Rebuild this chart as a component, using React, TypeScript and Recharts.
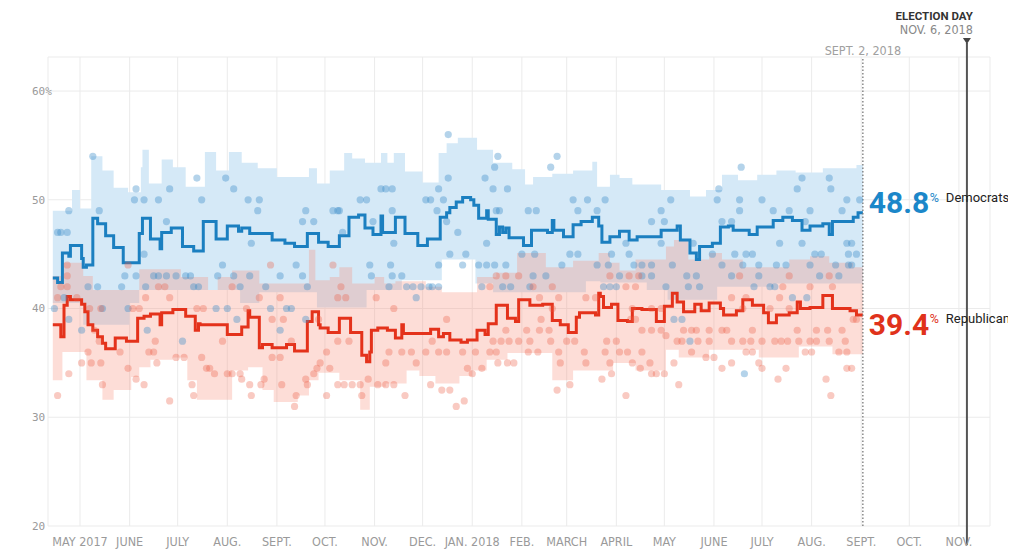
import React from "react";
import {
  ComposedChart,
  XAxis,
  YAxis,
  CartesianGrid,
  Line,
  Area,
  Scatter,
  ReferenceLine,
  ReferenceDot,
} from "recharts";

type Pt = [string, number];

// ---------- axes ----------
const monthTicks: string[] = [
  "2017-05-01", "2017-06-01", "2017-07-01", "2017-08-01", "2017-09-01", "2017-10-01",
  "2017-11-01", "2017-12-01", "2018-01-01", "2018-02-01", "2018-03-01", "2018-04-01",
  "2018-05-01", "2018-06-01", "2018-07-01", "2018-08-01", "2018-09-01", "2018-10-01",
  "2018-11-01",
];
const monthTickLabels: string[] = [
  "MAY 2017", "JUNE", "JULY", "AUG.", "SEPT.", "OCT.", "NOV.", "DEC.", "JAN. 2018",
  "FEB.", "MARCH", "APRIL", "MAY", "JUNE", "JULY", "AUG.", "SEPT.", "OCT.", "NOV.",
];
const yTicks: number[] = [20, 30, 40, 50, 60];
const xDomainDates: string[] = ["2017-04-11T00:00:00Z", "2018-11-20T10:00:00Z"];
const yDomain: [number, number] = [20, 63.13];

const latestDate = "2018-09-02";
const latestLabel = "SEPT. 2, 2018";
const electionDate = "2018-11-06";
const electionTitle = "ELECTION DAY";
const electionSub = "NOV. 6, 2018";
const demLatest = 48.8;
const repLatest = 39.4;
const demName = "Democrats";
const repName = "Republicans";

// ---------- polling averages ----------
const demAvg: Pt[] = [
  ["2017-04-14", 42.8], ["2017-04-17", 42.4], ["2017-04-20", 45.1], ["2017-04-24", 44.8], ["2017-04-25", 45.8],
  ["2017-05-02", 44.6], ["2017-05-03", 43.8], ["2017-05-05", 44.0], ["2017-05-09", 48.3], ["2017-05-12", 47.8],
  ["2017-05-17", 46.7], ["2017-05-22", 45.6], ["2017-05-28", 44.2], ["2017-06-07", 46.9], ["2017-06-09", 48.3],
  ["2017-06-14", 46.4], ["2017-06-20", 45.5], ["2017-06-21", 47.0], ["2017-06-27", 47.4], ["2017-07-04", 45.7],
  ["2017-07-11", 45.3], ["2017-07-17", 48.0], ["2017-07-25", 46.4], ["2017-08-01", 47.6], ["2017-08-08", 47.1],
  ["2017-08-10", 47.4], ["2017-08-15", 46.9], ["2017-08-29", 46.3], ["2017-09-06", 46.0], ["2017-09-12", 45.7],
  ["2017-09-20", 46.9], ["2017-09-27", 46.1], ["2017-10-03", 45.7], ["2017-10-10", 46.7], ["2017-10-16", 48.4],
  ["2017-10-22", 48.6], ["2017-10-26", 47.4], ["2017-10-31", 46.8], ["2017-11-05", 48.5], ["2017-11-06", 47.0],
  ["2017-11-14", 48.4], ["2017-11-20", 46.9], ["2017-11-28", 45.8], ["2017-12-04", 46.4], ["2017-12-12", 48.4],
  ["2017-12-16", 48.8], ["2017-12-18", 49.3], ["2017-12-22", 49.8], ["2017-12-26", 50.2], ["2017-12-31", 50.0],
  ["2018-01-02", 49.5], ["2018-01-05", 48.3], ["2018-01-10", 49.0], ["2018-01-11", 48.2], ["2018-01-16", 46.8],
  ["2018-01-18", 47.5], ["2018-01-20", 47.0], ["2018-01-22", 47.4], ["2018-01-24", 46.5], ["2018-02-02", 45.8],
  ["2018-02-07", 47.2], ["2018-02-17", 47.0], ["2018-02-20", 48.1], ["2018-02-21", 47.2], ["2018-02-27", 46.6],
  ["2018-03-05", 47.7], ["2018-03-10", 48.0], ["2018-03-17", 48.4], ["2018-03-21", 47.6], ["2018-03-23", 46.1],
  ["2018-03-28", 46.6], ["2018-04-03", 47.1], ["2018-04-09", 46.3], ["2018-04-14", 46.6], ["2018-04-29", 47.2],
  ["2018-05-09", 47.6], ["2018-05-11", 46.3], ["2018-05-17", 45.1], ["2018-05-21", 44.5], ["2018-05-23", 45.7],
  ["2018-05-31", 46.0], ["2018-06-05", 47.5], ["2018-06-10", 47.6], ["2018-06-13", 47.2], ["2018-06-23", 46.8],
  ["2018-06-28", 47.5], ["2018-07-08", 48.1], ["2018-07-14", 48.4], ["2018-07-20", 48.1], ["2018-07-26", 47.2],
  ["2018-07-31", 47.6], ["2018-08-08", 47.8], ["2018-08-12", 46.8], ["2018-08-14", 48.0], ["2018-08-27", 48.4],
  ["2018-08-30", 48.8], ["2018-09-02", 48.8],
];

const repAvg: Pt[] = [
  ["2017-04-14", 38.5], ["2017-04-19", 37.4], ["2017-04-21", 40.3], ["2017-04-23", 41.1], ["2017-04-25", 40.8],
  ["2017-05-02", 40.4], ["2017-05-04", 39.7], ["2017-05-06", 38.5], ["2017-05-09", 38.0], ["2017-05-12", 37.4],
  ["2017-05-15", 36.8], ["2017-05-17", 36.3], ["2017-05-23", 37.3], ["2017-05-30", 37.0], ["2017-06-06", 39.1],
  ["2017-06-10", 39.3], ["2017-06-14", 39.5], ["2017-06-20", 38.5], ["2017-06-21", 39.6], ["2017-06-28", 39.9],
  ["2017-07-06", 39.3], ["2017-07-12", 38.0], ["2017-07-14", 38.6], ["2017-07-15", 38.5], ["2017-08-01", 37.6],
  ["2017-08-10", 38.3], ["2017-08-14", 39.8], ["2017-08-15", 39.2], ["2017-08-21", 36.4], ["2017-08-23", 36.7],
  ["2017-08-29", 36.4], ["2017-09-07", 36.7], ["2017-09-12", 36.1], ["2017-09-20", 38.8], ["2017-09-23", 39.7],
  ["2017-09-27", 38.5], ["2017-09-28", 38.2], ["2017-10-03", 37.8], ["2017-10-10", 39.1], ["2017-10-17", 37.8],
  ["2017-10-24", 35.7], ["2017-10-27", 35.1], ["2017-10-29", 36.0], ["2017-10-30", 38.0], ["2017-11-03", 38.2],
  ["2017-11-09", 38.0], ["2017-11-14", 37.3], ["2017-11-18", 38.5], ["2017-11-19", 37.7], ["2017-12-06", 38.1],
  ["2017-12-11", 37.4], ["2017-12-14", 37.7], ["2017-12-18", 37.1], ["2017-12-25", 36.9], ["2017-12-29", 37.1],
  ["2018-01-04", 38.0], ["2018-01-09", 37.6], ["2018-01-11", 38.6], ["2018-01-16", 40.3], ["2018-01-23", 39.1],
  ["2018-01-28", 38.8], ["2018-01-30", 40.8], ["2018-02-06", 40.3], ["2018-02-14", 40.4], ["2018-02-20", 38.9],
  ["2018-02-25", 38.5], ["2018-03-02", 37.8], ["2018-03-07", 39.2], ["2018-03-09", 39.6], ["2018-03-19", 39.4],
  ["2018-03-21", 41.4], ["2018-03-22", 41.1], ["2018-03-24", 40.1], ["2018-03-29", 40.4], ["2018-04-02", 38.9],
  ["2018-04-08", 38.8], ["2018-04-11", 40.0], ["2018-04-17", 39.9], ["2018-04-26", 38.8], ["2018-05-01", 40.2],
  ["2018-05-06", 41.4], ["2018-05-09", 40.6], ["2018-05-13", 39.7], ["2018-05-20", 40.4], ["2018-05-24", 39.8],
  ["2018-05-29", 40.5], ["2018-06-05", 40.0], ["2018-06-07", 39.4], ["2018-06-15", 39.8], ["2018-06-19", 40.8],
  ["2018-06-25", 40.3], ["2018-07-02", 39.6], ["2018-07-05", 38.7], ["2018-07-10", 39.4], ["2018-07-18", 39.6],
  ["2018-07-23", 40.6], ["2018-07-25", 40.0], ["2018-07-31", 40.1], ["2018-08-08", 41.2], ["2018-08-14", 40.0],
  ["2018-08-25", 39.8], ["2018-08-29", 39.4], ["2018-09-02", 39.4],
];

// ---------- uncertainty bands ----------
const demBandHigh: Pt[] = [
  ["2017-04-14", 49.0], ["2017-04-26", 50.9], ["2017-05-01", 49.2], ["2017-05-08", 54.0], ["2017-05-15", 52.7],
  ["2017-05-22", 51.1], ["2017-05-31", 50.7], ["2017-06-08", 53.0], ["2017-06-09", 54.6], ["2017-06-13", 51.5],
  ["2017-06-21", 53.7], ["2017-06-28", 53.0], ["2017-07-06", 51.2], ["2017-07-18", 54.4], ["2017-07-25", 52.7],
  ["2017-08-02", 54.4], ["2017-08-10", 53.4], ["2017-08-20", 52.9], ["2017-09-01", 52.1], ["2017-09-21", 52.9],
  ["2017-09-26", 51.5], ["2017-10-04", 52.7], ["2017-10-13", 54.3], ["2017-10-18", 53.8], ["2017-10-26", 53.4],
  ["2017-11-05", 54.3], ["2017-11-09", 53.4], ["2017-11-13", 54.3], ["2017-11-20", 52.6], ["2017-12-01", 51.6],
  ["2017-12-11", 54.3], ["2017-12-16", 55.2], ["2017-12-23", 55.7], ["2018-01-04", 54.6], ["2018-01-14", 53.4],
  ["2018-01-26", 52.8], ["2018-02-03", 51.4], ["2018-02-08", 52.1], ["2018-02-20", 52.4], ["2018-03-05", 52.7],
  ["2018-03-17", 53.5], ["2018-03-20", 51.2], ["2018-03-28", 52.3], ["2018-04-03", 52.0], ["2018-04-11", 51.4],
  ["2018-04-29", 50.9], ["2018-05-17", 50.3], ["2018-05-27", 50.9], ["2018-06-06", 52.3], ["2018-06-16", 51.8],
  ["2018-06-28", 52.3], ["2018-07-10", 52.7], ["2018-07-22", 52.5], ["2018-08-08", 52.9], ["2018-08-29", 53.2],
  ["2018-09-02", 53.2],
];
const demBandLow: Pt[] = [
  ["2017-04-14", 40.5], ["2017-05-03", 38.5], ["2017-06-01", 40.5], ["2017-06-07", 41.7], ["2017-08-09", 40.5],
  ["2017-08-21", 41.5], ["2017-09-26", 40.1], ["2017-10-27", 41.7], ["2017-11-18", 42.6], ["2017-12-13", 44.5],
  ["2018-01-03", 42.3], ["2018-01-14", 41.5], ["2018-03-13", 42.5], ["2018-03-22", 42.4], ["2018-04-20", 41.7],
  ["2018-05-03", 40.8], ["2018-06-03", 42.0], ["2018-07-08", 42.3], ["2018-09-02", 42.3],
];
const repBandHigh: Pt[] = [
  ["2017-04-14", 43.0], ["2017-04-20", 44.2], ["2017-05-03", 43.0], ["2017-05-09", 41.7], ["2017-06-07", 43.6],
  ["2017-07-03", 42.9], ["2017-07-20", 41.7], ["2017-07-26", 42.9], ["2017-08-04", 43.5], ["2017-08-21", 42.3],
  ["2017-09-21", 45.4], ["2017-09-25", 42.6], ["2017-10-04", 42.9], ["2017-10-10", 43.8], ["2017-10-18", 42.3],
  ["2017-11-01", 42.9], ["2017-11-07", 42.3], ["2017-11-14", 42.5], ["2017-12-03", 42.0], ["2017-12-13", 41.5],
  ["2018-01-04", 42.9], ["2018-01-16", 43.3], ["2018-01-29", 45.1], ["2018-02-16", 43.8], ["2018-03-05", 44.4],
  ["2018-03-21", 45.1], ["2018-03-28", 44.2], ["2018-04-03", 43.5], ["2018-04-13", 44.5], ["2018-05-02", 45.7],
  ["2018-05-07", 46.3], ["2018-05-16", 44.5], ["2018-05-29", 45.1], ["2018-06-06", 44.5], ["2018-06-19", 43.8],
  ["2018-07-18", 44.5], ["2018-07-31", 44.8], ["2018-08-12", 44.2], ["2018-08-27", 43.8], ["2018-09-02", 43.8],
];
const repBandLow: Pt[] = [
  ["2017-04-14", 33.4], ["2017-04-20", 36.0], ["2017-05-05", 33.4], ["2017-05-15", 31.6], ["2017-05-22", 32.5],
  ["2017-06-02", 33.7], ["2017-06-07", 34.6], ["2017-06-14", 35.3], ["2017-06-28", 35.5], ["2017-07-07", 33.4],
  ["2017-07-13", 31.6], ["2017-08-04", 34.3], ["2017-08-14", 34.6], ["2017-08-23", 32.5], ["2017-08-30", 31.4],
  ["2017-09-14", 32.0], ["2017-09-21", 33.4], ["2017-09-27", 34.1], ["2017-10-10", 33.4], ["2017-10-23", 30.7],
  ["2017-10-29", 32.8], ["2017-11-08", 33.1], ["2017-11-21", 34.3], ["2017-11-29", 33.8], ["2017-12-09", 33.1],
  ["2017-12-24", 33.8], ["2018-01-01", 34.3], ["2018-01-10", 35.3], ["2018-01-23", 35.9], ["2018-02-20", 33.4],
  ["2018-03-05", 34.3], ["2018-03-22", 34.3], ["2018-03-30", 35.0], ["2018-04-13", 34.3], ["2018-05-02", 36.2],
  ["2018-05-10", 35.5], ["2018-05-29", 36.2], ["2018-06-29", 35.5], ["2018-07-24", 36.5], ["2018-08-14", 35.8],
  ["2018-09-02", 35.8],
];

// ---------- individual polls ----------
const demPolls: Pt[] = [
  ["2017-04-15", 40], ["2017-04-17", 47], ["2017-04-19", 47], ["2017-04-21", 41], ["2017-04-23", 47], ["2017-04-24", 49],
  ["2017-04-24", 39], ["2017-05-02", 38], ["2017-05-06", 42], ["2017-05-09", 54], ["2017-05-12", 42], ["2017-05-13", 49],
  ["2017-05-15", 40], ["2017-05-27", 42], ["2017-05-29", 43], ["2017-05-31", 40], ["2017-06-04", 50], ["2017-06-05", 51],
  ["2017-06-05", 43], ["2017-06-10", 50], ["2017-06-10", 45], ["2017-06-11", 42], ["2017-06-12", 38], ["2017-06-16", 43],
  ["2017-06-19", 50], ["2017-06-19", 43], ["2017-06-24", 48], ["2017-06-24", 43], ["2017-06-26", 51], ["2017-06-30", 43],
  ["2017-07-04", 37], ["2017-07-06", 43], ["2017-07-09", 43], ["2017-07-11", 42], ["2017-07-13", 52], ["2017-07-14", 42],
  ["2017-07-16", 50], ["2017-07-25", 40], ["2017-07-26", 43], ["2017-07-29", 44], ["2017-07-31", 52], ["2017-08-01", 40],
  ["2017-08-05", 51], ["2017-08-05", 43], ["2017-08-07", 39], ["2017-08-09", 42], ["2017-08-14", 50], ["2017-08-15", 43],
  ["2017-08-16", 46], ["2017-08-20", 49], ["2017-08-21", 50], ["2017-08-25", 42], ["2017-08-28", 40], ["2017-09-03", 43],
  ["2017-09-03", 38], ["2017-09-07", 40], ["2017-09-10", 40], ["2017-09-13", 44], ["2017-09-17", 48], ["2017-09-17", 43],
  ["2017-09-19", 49], ["2017-09-19", 39], ["2017-09-20", 42], ["2017-09-24", 48], ["2017-10-06", 49], ["2017-10-09", 49],
  ["2017-10-10", 49], ["2017-10-12", 47], ["2017-10-23", 50], ["2017-10-27", 50], ["2017-10-29", 44], ["2017-10-30", 43],
  ["2017-10-31", 48], ["2017-11-05", 51], ["2017-11-08", 51], ["2017-11-10", 42], ["2017-11-11", 44], ["2017-11-12", 51],
  ["2017-11-12", 49], ["2017-11-12", 43], ["2017-11-13", 46], ["2017-11-18", 43], ["2017-11-21", 42], ["2017-11-25", 42],
  ["2017-11-27", 41], ["2017-11-30", 42], ["2017-12-03", 50], ["2017-12-05", 42], ["2017-12-06", 50], ["2017-12-07", 42],
  ["2017-12-10", 49], ["2017-12-11", 51], ["2017-12-11", 44], ["2017-12-11", 42], ["2017-12-14", 50], ["2017-12-16", 48],
  ["2017-12-17", 56], ["2017-12-17", 52], ["2017-12-18", 45], ["2017-12-23", 47], ["2017-12-26", 44], ["2017-12-28", 45],
  ["2018-01-05", 44], ["2018-01-07", 42], ["2018-01-09", 52], ["2018-01-10", 46], ["2018-01-10", 44], ["2018-01-14", 51],
  ["2018-01-15", 53], ["2018-01-15", 44], ["2018-01-16", 49], ["2018-01-17", 54], ["2018-01-18", 49], ["2018-01-20", 42],
  ["2018-01-22", 44], ["2018-01-23", 51], ["2018-01-25", 42], ["2018-02-01", 45], ["2018-02-05", 49], ["2018-02-06", 42],
  ["2018-02-08", 43], ["2018-02-09", 45], ["2018-02-10", 49], ["2018-02-16", 43], ["2018-02-19", 53], ["2018-02-23", 54],
  ["2018-02-26", 44], ["2018-03-03", 45], ["2018-03-05", 50], ["2018-03-08", 49], ["2018-03-08", 45], ["2018-03-14", 50],
  ["2018-03-20", 49], ["2018-03-20", 44], ["2018-03-24", 42], ["2018-03-25", 50], ["2018-03-27", 44], ["2018-03-28", 42],
  ["2018-03-29", 45], ["2018-04-01", 42], ["2018-04-03", 43], ["2018-04-07", 46], ["2018-04-09", 45], ["2018-04-12", 44],
  ["2018-04-17", 44], ["2018-04-17", 43], ["2018-04-23", 48], ["2018-04-23", 44], ["2018-04-23", 43], ["2018-04-29", 49],
  ["2018-04-29", 46], ["2018-05-01", 48], ["2018-05-02", 42], ["2018-05-05", 50], ["2018-05-06", 44], ["2018-05-07", 39],
  ["2018-05-12", 39], ["2018-05-15", 43], ["2018-05-16", 42], ["2018-05-17", 37], ["2018-05-19", 46], ["2018-05-21", 43],
  ["2018-05-23", 42], ["2018-05-31", 45], ["2018-06-03", 50], ["2018-06-04", 51], ["2018-06-06", 48], ["2018-06-06", 44],
  ["2018-06-12", 48], ["2018-06-12", 43], ["2018-06-14", 45], ["2018-06-17", 50], ["2018-06-17", 49], ["2018-06-18", 53],
  ["2018-06-19", 44], ["2018-06-20", 34], ["2018-06-21", 45], ["2018-06-25", 45], ["2018-06-26", 42], ["2018-06-29", 44],
  ["2018-06-29", 43], ["2018-07-01", 50], ["2018-07-06", 42], ["2018-07-08", 49], ["2018-07-09", 42], ["2018-07-10", 44],
  ["2018-07-12", 46], ["2018-07-16", 44], ["2018-07-18", 49], ["2018-07-20", 41], ["2018-07-23", 51], ["2018-07-26", 52],
  ["2018-07-26", 46], ["2018-07-28", 48], ["2018-07-29", 41], ["2018-07-31", 49], ["2018-07-31", 44], ["2018-08-03", 45],
  ["2018-08-06", 43], ["2018-08-07", 45], ["2018-08-12", 52], ["2018-08-13", 51], ["2018-08-16", 44], ["2018-08-18", 43],
  ["2018-08-20", 49], ["2018-08-23", 50], ["2018-08-23", 46], ["2018-08-24", 45], ["2018-08-24", 44], ["2018-08-26", 46],
  ["2018-08-26", 44], ["2018-08-29", 45], ["2018-08-31", 50],
];

const repPolls: Pt[] = [
  ["2017-04-17", 41], ["2017-04-17", 32], ["2017-04-19", 42], ["2017-04-23", 44], ["2017-04-23", 43], ["2017-04-23", 42],
  ["2017-04-24", 34], ["2017-04-29", 41], ["2017-05-02", 35], ["2017-05-06", 36], ["2017-05-07", 40], ["2017-05-08", 35],
  ["2017-05-10", 38], ["2017-05-13", 37], ["2017-05-14", 40], ["2017-05-14", 35], ["2017-05-15", 33], ["2017-05-26", 36],
  ["2017-05-31", 44], ["2017-05-31", 34.5], ["2017-06-03", 40], ["2017-06-05", 33.5], ["2017-06-07", 40], ["2017-06-10", 33],
  ["2017-06-11", 41], ["2017-06-13", 36], ["2017-06-16", 36], ["2017-06-17", 37], ["2017-06-18", 35], ["2017-06-19", 42],
  ["2017-06-23", 42], ["2017-06-26", 41], ["2017-06-26", 31.5], ["2017-06-30", 35.5], ["2017-07-05", 35.5], ["2017-07-10", 33],
  ["2017-07-11", 32], ["2017-07-13", 40], ["2017-07-16", 35.5], ["2017-07-17", 40], ["2017-07-19", 34.5], ["2017-07-21", 34.5],
  ["2017-07-24", 34], ["2017-07-29", 37], ["2017-08-01", 34], ["2017-08-04", 42], ["2017-08-04", 34], ["2017-08-09", 34],
  ["2017-08-10", 33.5], ["2017-08-13", 40], ["2017-08-15", 33], ["2017-08-16", 32], ["2017-08-21", 41], ["2017-08-22", 33],
  ["2017-08-24", 33.5], ["2017-08-28", 44], ["2017-08-29", 39], ["2017-08-29", 35.5], ["2017-09-03", 41], ["2017-09-03", 35.5],
  ["2017-09-04", 33], ["2017-09-05", 39], ["2017-09-10", 37], ["2017-09-12", 31], ["2017-09-13", 32], ["2017-09-19", 33.5],
  ["2017-09-20", 33], ["2017-09-24", 34], ["2017-09-26", 34.5], ["2017-09-27", 39], ["2017-09-28", 35], ["2017-10-02", 36],
  ["2017-10-02", 32], ["2017-10-04", 34.5], ["2017-10-06", 44], ["2017-10-09", 41], ["2017-10-09", 37], ["2017-10-09", 33],
  ["2017-10-11", 42], ["2017-10-13", 33], ["2017-10-14", 41], ["2017-10-16", 37], ["2017-10-18", 33], ["2017-10-23", 33],
  ["2017-10-24", 32], ["2017-10-28", 33.5], ["2017-11-02", 41], ["2017-11-03", 33], ["2017-11-08", 35], ["2017-11-08", 33],
  ["2017-11-10", 36], ["2017-11-13", 40], ["2017-11-13", 33], ["2017-11-18", 36], ["2017-11-20", 32], ["2017-11-24", 36],
  ["2017-11-27", 35], ["2017-12-03", 36], ["2017-12-06", 33], ["2017-12-07", 37], ["2017-12-11", 36], ["2017-12-13", 32.5],
  ["2017-12-16", 39], ["2017-12-16", 36], ["2017-12-18", 32.5], ["2017-12-22", 31], ["2017-12-26", 36], ["2017-12-27", 31.5],
  ["2017-12-29", 34.5], ["2018-01-01", 34], ["2018-01-03", 36], ["2018-01-07", 34.5], ["2018-01-12", 42], ["2018-01-12", 36],
  ["2018-01-14", 37], ["2018-01-16", 43], ["2018-01-16", 36], ["2018-01-17", 35], ["2018-01-19", 37], ["2018-01-22", 43],
  ["2018-01-22", 38], ["2018-01-23", 35], ["2018-01-24", 37], ["2018-01-27", 35], ["2018-01-30", 43], ["2018-01-30", 37],
  ["2018-02-04", 38], ["2018-02-05", 36], ["2018-02-06", 37], ["2018-02-08", 42], ["2018-02-11", 36], ["2018-02-12", 41],
  ["2018-02-12", 38], ["2018-02-13", 39], ["2018-02-18", 38], ["2018-02-19", 37], ["2018-02-20", 42], ["2018-02-20", 40],
  ["2018-02-23", 32.5], ["2018-02-24", 41], ["2018-02-24", 36], ["2018-02-25", 35], ["2018-03-01", 37], ["2018-03-03", 33],
  ["2018-03-06", 37], ["2018-03-12", 36], ["2018-03-13", 41], ["2018-03-13", 35], ["2018-03-19", 41], ["2018-03-23", 33.5],
  ["2018-03-25", 36], ["2018-03-26", 37], ["2018-03-28", 43], ["2018-03-28", 35], ["2018-03-29", 34], ["2018-04-01", 37],
  ["2018-04-03", 36], ["2018-04-07", 42], ["2018-04-07", 32], ["2018-04-08", 36], ["2018-04-09", 43], ["2018-04-10", 39],
  ["2018-04-11", 40], ["2018-04-11", 35], ["2018-04-13", 42], ["2018-04-13", 39], ["2018-04-15", 43], ["2018-04-16", 34.5],
  ["2018-04-17", 38], ["2018-04-17", 36], ["2018-04-22", 35], ["2018-04-23", 40], ["2018-04-23", 38], ["2018-04-23", 34],
  ["2018-04-26", 34], ["2018-04-29", 40], ["2018-04-29", 38], ["2018-05-01", 34], ["2018-05-02", 37.5], ["2018-05-07", 35],
  ["2018-05-09", 37], ["2018-05-10", 33], ["2018-05-12", 37], ["2018-05-13", 38], ["2018-05-18", 38], ["2018-05-18", 36],
  ["2018-05-21", 38], ["2018-05-22", 37], ["2018-05-27", 35.5], ["2018-05-29", 38], ["2018-05-29", 37], ["2018-06-01", 35.5],
  ["2018-06-06", 38], ["2018-06-06", 34.5], ["2018-06-09", 38], ["2018-06-12", 41], ["2018-06-12", 37], ["2018-06-12", 35],
  ["2018-06-17", 43], ["2018-06-19", 40], ["2018-06-19", 37], ["2018-06-21", 41], ["2018-06-21", 36], ["2018-06-24", 37],
  ["2018-06-25", 38], ["2018-06-25", 36], ["2018-06-29", 35], ["2018-07-01", 37], ["2018-07-01", 34.5], ["2018-07-06", 40],
  ["2018-07-09", 37], ["2018-07-11", 33.5], ["2018-07-12", 41], ["2018-07-13", 37], ["2018-07-14", 42], ["2018-07-16", 34.5],
  ["2018-07-17", 37], ["2018-07-18", 43], ["2018-07-18", 40], ["2018-07-23", 38], ["2018-07-24", 37], ["2018-07-28", 36],
  ["2018-07-31", 42], ["2018-07-31", 37], ["2018-08-01", 36], ["2018-08-04", 38], ["2018-08-04", 37], ["2018-08-10", 33.5],
  ["2018-08-11", 38], ["2018-08-12", 43], ["2018-08-12", 37], ["2018-08-13", 32], ["2018-08-14", 42], ["2018-08-18", 36],
  ["2018-08-20", 38], ["2018-08-22", 37], ["2018-08-23", 36], ["2018-08-23", 34.5], ["2018-08-26", 34.5], ["2018-08-27", 39],
  ["2018-08-29", 39],
];

// ---------- helpers (build library tables from the arrays above) ----------
const ts = (d: string): number => Date.parse(d.length === 10 ? d + "T00:00:00Z" : d);
const toRows = (arr: Pt[]) => arr.map(([d, v]) => ({ t: ts(d), v }));
const buildBand = (hi: Pt[], lo: Pt[]) => {
  const dates = Array.from(new Set([...hi.map((p) => p[0]), ...lo.map((p) => p[0])])).sort();
  const latest = (arr: Pt[], d: string) => {
    let val = arr[0][1];
    for (const [dd, vv] of arr) {
      if (dd <= d) val = vv;
      else break;
    }
    return val;
  };
  return dates.map((d) => ({ t: ts(d), range: [latest(lo, d), latest(hi, d)] }));
};

const demLine = toRows(demAvg);
const repLine = toRows(repAvg);
const demBand = buildBand(demBandHigh, demBandLow);
const repBand = buildBand(repBandHigh, repBandLow);
const demDots = toRows(demPolls);
const repDots = toRows(repPolls);
const xTicks = monthTicks.map(ts);
const xDomain = xDomainDates.map((d) => Date.parse(d));

const AXIS_FONT = "'Liberation Sans Narrow', 'DejaVu Sans Condensed', Roboto, sans-serif";
const LABEL_FONT = "Roboto, 'Noto Sans', sans-serif";

const XTick = (props: any) => {
  const { x, y, payload } = props;
  const i = xTicks.indexOf(payload.value);
  return (
    <text x={x} y={y + 20} textAnchor="middle" fill="#9a9a9a" fontSize={12.5} fontFamily={AXIS_FONT}>
      {i >= 0 ? monthTickLabels[i] : ""}
    </text>
  );
};

const YTick = (props: any) => {
  const { y, payload } = props;
  return (
    <text x={24} y={y} dy="0.35em" textAnchor="start" fill="#9a9a9a" fontSize={11} fontFamily="'DejaVu Sans Mono', monospace">
      {payload.value === 60 ? "60%" : String(payload.value)}
    </text>
  );
};

const LatestLabel = (props: any) => {
  const vb = props.viewBox || {};
  const x = vb.x ?? 0;
  const top = vb.y ?? 0;
  return (
    <text x={x} y={top - 2} textAnchor="middle" fill="#a0a0a0" fontSize={12.5} fontFamily={AXIS_FONT}>
      {latestLabel}
    </text>
  );
};

const ElectionLabel = (props: any) => {
  const vb = props.viewBox || {};
  const x = vb.x ?? 0;
  const top = vb.y ?? 0;
  const bottom = top + (vb.height ?? 0);
  return (
    <g>
      <line x1={x} x2={x} y1={top - 14} y2={top} stroke="#555" strokeWidth={2} />
      <line x1={x} x2={x} y1={bottom} y2={bottom + 19} stroke="#555" strokeWidth={2} />
      <polygon points={`${x - 4},${top - 19} ${x + 4},${top - 19} ${x},${top - 13}`} fill="#444" />
      <text x={x + 6} y={top - 37} textAnchor="end" fill="#333" fontSize={11.5} fontWeight={700} fontFamily={LABEL_FONT}>
        {electionTitle}
      </text>
      <text x={x + 6} y={top - 23} textAnchor="end" fill="#888" fontSize={12.5} fontFamily={AXIS_FONT}>
        {electionSub}
      </text>
    </g>
  );
};

const EndLabel = (props: any) => {
  const { viewBox, value, name, color, numDy, nameDy } = props;
  const vb = viewBox || {};
  const cx = (vb.x ?? 0) + (vb.width ?? 0) / 2;
  const cy = (vb.y ?? 0) + (vb.height ?? 0) / 2;
  return (
    <g fontFamily={LABEL_FONT}>
      <text x={cx + 6} y={cy + numDy} fill={color} fontSize={30} fontWeight={700}>
        {value.toFixed(1)}
      </text>
      <text x={cx + 67} y={cy + nameDy} fill={color} fontSize={12.5}>
        %
      </text>
      <text x={cx + 83} y={cy + nameDy} fill="#222" fontSize={13}>
        {name}
      </text>
    </g>
  );
};

const demDot = (p: any) => <circle cx={p.cx} cy={p.cy} r={3.6} fill="#3a8cc8" fillOpacity={0.38} />;
const repDot = (p: any) => <circle cx={p.cx} cy={p.cy} r={3.6} fill="#ec5a40" fillOpacity={0.32} />;

export default function App() {
  return (
    <ComposedChart width={1000} height={551} margin={{ top: 49, right: 18, bottom: 3, left: 0 }}>
      <CartesianGrid stroke="#ebebeb" strokeWidth={1} />
      <XAxis
        dataKey="t"
        type="number"
        scale="time"
        domain={xDomain}
        ticks={xTicks}
        interval={0}
        tick={<XTick />}
        tickLine={false}
        axisLine={false}
        tickSize={0}
        tickMargin={0}
        height={30}
        allowDataOverflow
      />
      <YAxis
        type="number"
        domain={yDomain}
        ticks={yTicks}
        interval={0}
        tick={<YTick />}
        tickLine={false}
        axisLine={false}
        width={40}
        allowDataOverflow
      />
      <Area
        data={demBand}
        dataKey="range"
        type="stepAfter"
        stroke="none"
        fill="#d5e9f7"
        fillOpacity={1}
        isAnimationActive={false}
        activeDot={false}
      />
      <Area
        data={repBand}
        dataKey="range"
        type="stepAfter"
        stroke="none"
        fill="#f7907a"
        fillOpacity={0.3}
        isAnimationActive={false}
        activeDot={false}
      />
      <Scatter data={demDots} dataKey="v" shape={demDot} isAnimationActive={false} />
      <Scatter data={repDots} dataKey="v" shape={repDot} isAnimationActive={false} />
      <Line
        data={demLine}
        dataKey="v"
        type="stepAfter"
        stroke="#1b7fc0"
        strokeWidth={3}
        dot={false}
        activeDot={false}
        isAnimationActive={false}
      />
      <Line
        data={repLine}
        dataKey="v"
        type="stepAfter"
        stroke="#e4321b"
        strokeWidth={3}
        dot={false}
        activeDot={false}
        isAnimationActive={false}
      />
      <ReferenceLine
        x={ts(latestDate)}
        stroke="#777"
        strokeWidth={1.3}
        strokeDasharray="1.5 2"
        label={<LatestLabel />}
      />
      <ReferenceLine x={ts(electionDate)} stroke="#555" strokeWidth={2} label={<ElectionLabel />} />
      <ReferenceDot
        x={ts(latestDate)}
        y={demLatest}
        r={0}
        fill="none"
        stroke="none"
        label={<EndLabel value={demLatest} name={demName} color="#1b87c9" numDy={0} nameDy={-11} />}
      />
      <ReferenceDot
        x={ts(latestDate)}
        y={repLatest}
        r={0}
        fill="none"
        stroke="none"
        label={<EndLabel value={repLatest} name={repName} color="#e0321b" numDy={20} nameDy={8} />}
      />
    </ComposedChart>
  );
}
